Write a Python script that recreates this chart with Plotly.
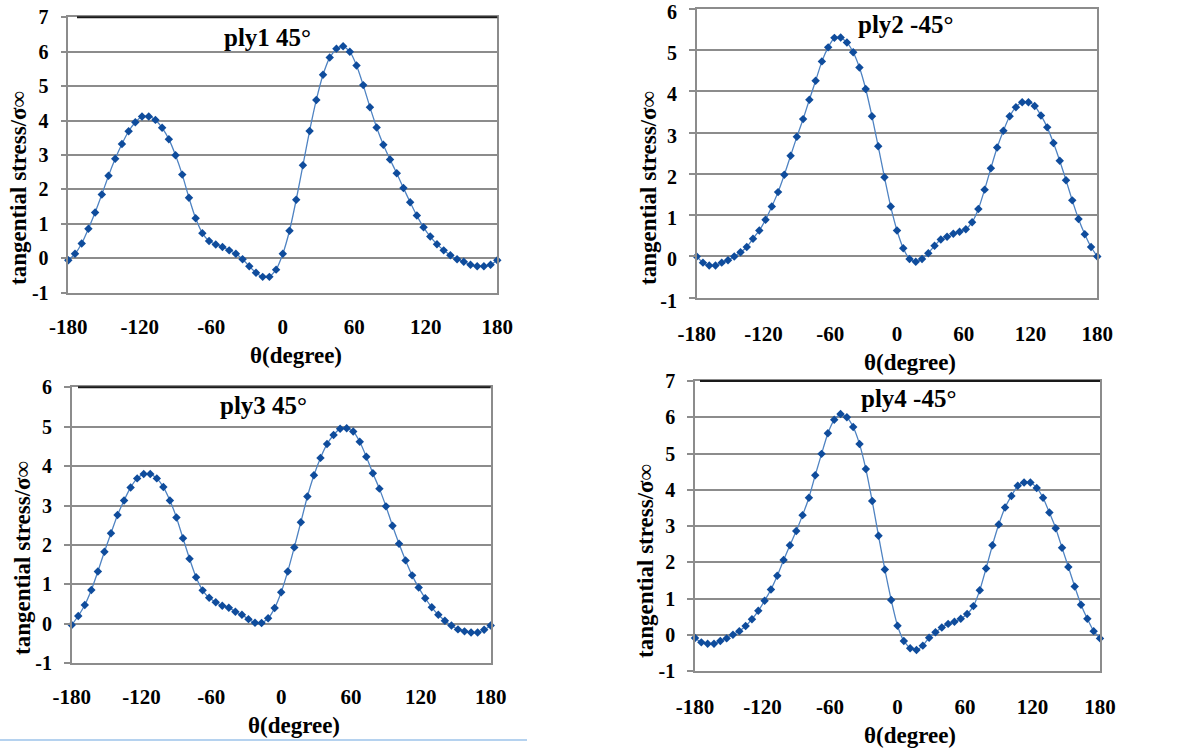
import plotly.graph_objects as go

# ---------------- data ----------------
theta = [-180, -174.375, -168.75, -163.125, -157.5, -151.875, -146.25, -140.625,
         -135, -129.375, -123.75, -118.125, -112.5, -106.875, -101.25, -95.625,
         -90, -84.375, -78.75, -73.125, -67.5, -61.875, -56.25, -50.625,
         -45, -39.375, -33.75, -28.125, -22.5, -16.875, -11.25, -5.625,
         0, 5.625, 11.25, 16.875, 22.5, 28.125, 33.75, 39.375,
         45, 50.625, 56.25, 61.875, 67.5, 73.125, 78.75, 84.375,
         90, 95.625, 101.25, 106.875, 112.5, 118.125, 123.75, 129.375,
         135, 140.625, 146.25, 151.875, 157.5, 163.125, 168.75, 174.375, 180]

ply1 = [-0.06, 0.13, 0.43, 0.86, 1.33, 1.85, 2.40, 2.89, 3.32, 3.69, 3.95, 4.12, 4.12,
        4.02, 3.79, 3.46, 2.99, 2.43, 1.76, 1.16, 0.73, 0.50, 0.40, 0.33, 0.23, 0.13,
        -0.03, -0.23, -0.42, -0.54, -0.54, -0.33, 0.13, 0.80, 1.70, 2.70, 3.70, 4.60,
        5.33, 5.83, 6.09, 6.16, 6.00, 5.60, 5.03, 4.39, 3.80, 3.30, 2.87, 2.47, 2.04,
        1.63, 1.24, 0.90, 0.63, 0.41, 0.23, 0.09, -0.03, -0.10, -0.19, -0.23, -0.23,
        -0.19, -0.06]

ply2 = [0.00, -0.15, -0.22, -0.22, -0.15, -0.09, 0.00, 0.10, 0.23, 0.43, 0.63, 0.89,
        1.21, 1.56, 1.98, 2.44, 2.90, 3.33, 3.80, 4.26, 4.73, 5.07, 5.30, 5.31, 5.19,
        4.95, 4.58, 4.06, 3.40, 2.67, 1.92, 1.21, 0.63, 0.20, -0.06, -0.13, -0.06,
        0.08, 0.26, 0.41, 0.48, 0.55, 0.60, 0.66, 0.83, 1.15, 1.62, 2.14, 2.64, 3.05,
        3.40, 3.62, 3.74, 3.74, 3.65, 3.42, 3.13, 2.75, 2.32, 1.85, 1.36, 0.91, 0.54,
        0.23, 0.00]

ply3 = [-0.03, 0.20, 0.48, 0.86, 1.33, 1.83, 2.30, 2.76, 3.13, 3.46, 3.69, 3.80, 3.80,
        3.69, 3.47, 3.13, 2.70, 2.17, 1.65, 1.18, 0.85, 0.66, 0.55, 0.46, 0.41, 0.31,
        0.23, 0.12, 0.03, 0.02, 0.14, 0.40, 0.80, 1.33, 1.94, 2.58, 3.23, 3.77, 4.21,
        4.56, 4.79, 4.95, 4.96, 4.88, 4.62, 4.24, 3.82, 3.43, 2.98, 2.49, 2.03, 1.61,
        1.23, 0.92, 0.65, 0.42, 0.23, 0.08, -0.04, -0.14, -0.19, -0.22, -0.22, -0.15,
        -0.04]

ply4 = [-0.09, -0.21, -0.25, -0.25, -0.17, -0.10, 0.00, 0.10, 0.24, 0.43, 0.66, 0.94,
        1.25, 1.63, 2.06, 2.47, 2.86, 3.30, 3.78, 4.40, 4.99, 5.56, 5.93, 6.09, 6.00,
        5.73, 5.26, 4.57, 3.69, 2.73, 1.80, 0.96, 0.25, -0.17, -0.37, -0.42, -0.30,
        -0.08, 0.07, 0.20, 0.30, 0.36, 0.44, 0.57, 0.79, 1.23, 1.83, 2.47, 3.04, 3.51,
        3.83, 4.11, 4.20, 4.20, 4.05, 3.78, 3.37, 2.94, 2.40, 1.87, 1.33, 0.83, 0.44,
        0.10, -0.10]

series = [ply1, ply2, ply3, ply4]
titles = ["ply1 45°", "ply2 -45°", "ply3 45°", "ply4 -45°"]
y_max = [7, 6, 6, 7]
x_ticks = [-180, -120, -60, 0, 60, 120, 180]
x_ticktext = ["-180", "-120", "-60", "0", "60", "120", "180"]
y_ticks7 = [-1, 0, 1, 2, 3, 4, 5, 6, 7]
y_ticktext7 = ["-1", "0", "1", "2", "3", "4", "5", "6", "7"]
x_title = "θ(degree)"
y_title = "tangential stress/σ∞"

# ---------------- layout (pixel geometry) ----------------
W, H = 1191, 749
def fx(x):
    return x / W
def fy(y):
    return 1 - y / H

# plot boxes: left, right, top, bottom (px)
boxes = [(68.3, 497.3, 17.3, 292.7),
         (696.7, 1097.3, 9.0, 297.7),
         (71.7, 490.7, 387.3, 663.3),
         (695.0, 1100.0, 381.0, 671.0)]
title_pos = [(267, 37), (905, 25), (263, 405), (908, 398)]
xtitle_pos = [(296, 355), (910, 362), (294, 725), (910, 735)]
ytitle_pos = [(18, 188), (648, 188), (22, 558), (645, 561)]
xlab_standoff = [14, 16, 14, 16]
ylab_shift = [0, 3, 0, 0]
black_top_from = [77, None, 78, 700]

FONT = "Liberation Serif, Times New Roman, serif"
LINE_COLOR = "#4f83c2"
MARK_COLOR = "#0f4c9c"
GRID = "#8c8c8c"

fig = go.Figure()
layout = dict(width=W, height=H, autosize=False,
              margin=dict(l=0, r=0, t=0, b=0, pad=0),
              paper_bgcolor="white", plot_bgcolor="white",
              showlegend=False, font=dict(family=FONT, color="black"))
annotations = []
shapes = []

for i, (vals, (l, r, t, b)) in enumerate(zip(series, boxes)):
    n = "" if i == 0 else str(i + 1)
    fig.add_trace(go.Scatter(
        x=theta, y=vals, mode="lines+markers",
        line=dict(color=LINE_COLOR, width=1.3, shape="spline", smoothing=0.5),
        marker=dict(symbol="diamond", size=6.5, color=MARK_COLOR),
        cliponaxis=False,
        xaxis="x" + n, yaxis="y" + n))
    nt = y_max[i] + 2
    layout["xaxis" + n] = dict(
        domain=[fx(l), fx(r)], range=[-180, 180], anchor="y" + n, automargin=False,
        tickmode="array", tickvals=x_ticks, ticktext=x_ticktext,
        ticks="", showgrid=False, zeroline=False, ticklabeloverflow="allow",
        showline=True, linecolor=GRID, linewidth=1.5, mirror=True,
        tickfont=dict(family=FONT, size=21, color="black", weight="bold"),
        ticklabelstandoff=xlab_standoff[i])
    layout["yaxis" + n] = dict(
        domain=[fy(b), fy(t)], range=[-1, y_max[i]], anchor="x" + n, automargin=False,
        tickmode="array", tickvals=y_ticks7[:nt], ticktext=y_ticktext7[:nt],
        ticks="outside", ticklen=6, tickcolor=GRID, tickwidth=1.5,
        showgrid=True, gridcolor=GRID, gridwidth=1.5, zeroline=False,
        ticklabeloverflow="allow", ticklabelshift=ylab_shift[i],
        showline=True, linecolor=GRID, linewidth=1.5, mirror=True,
        tickfont=dict(family=FONT, size=20, color="black", weight="bold"),
        ticklabelstandoff=8)
    tx, ty = title_pos[i]
    annotations.append(dict(text=titles[i], x=fx(tx), y=fy(ty), xref="paper", yref="paper",
                            showarrow=False, xanchor="center", yanchor="middle",
                            font=dict(family=FONT, size=25, color="black", weight="bold")))
    ax, ay = xtitle_pos[i]
    annotations.append(dict(text=x_title, x=fx(ax), y=fy(ay), xref="paper", yref="paper",
                            showarrow=False, xanchor="center", yanchor="middle",
                            font=dict(family=FONT, size=23, color="black", weight="bold")))
    yx, yy = ytitle_pos[i]
    annotations.append(dict(text=y_title, x=fx(yx), y=fy(yy), xref="paper", yref="paper",
                            showarrow=False, xanchor="center", yanchor="middle", textangle=-90,
                            font=dict(family=FONT, size=23, color="black", weight="bold")))
    if black_top_from[i] is not None:
        shapes.append(dict(type="line", xref="paper", yref="paper",
                           x0=fx(black_top_from[i]), x1=fx(r), y0=fy(t), y1=fy(t),
                           line=dict(color="#1a1a1a", width=2)))

shapes.append(dict(type="line", xref="paper", yref="paper",
                   x0=0, x1=fx(527), y0=fy(740), y1=fy(740),
                   line=dict(color="#9cc3ea", width=1.5)))

layout["annotations"] = annotations
layout["shapes"] = shapes
fig.update_layout(**layout)
fig.write_html("out.html")
